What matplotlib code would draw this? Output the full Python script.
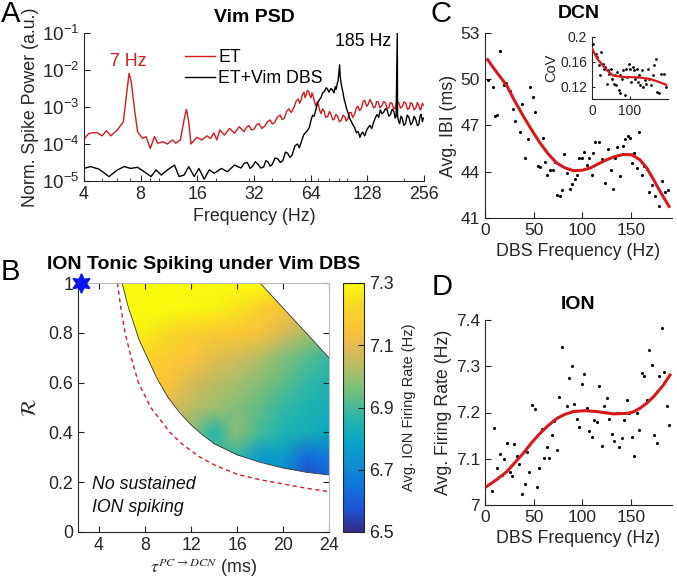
import numpy as np
import matplotlib
matplotlib.use("Agg")
import matplotlib.pyplot as plt
from matplotlib.colors import LinearSegmentedColormap
from matplotlib.patches import Polygon
from matplotlib.ticker import FixedLocator, NullLocator, NullFormatter

plt.rcParams['font.family'] = ['Liberation Sans', 'DejaVu Sans']
plt.rcParams['mathtext.fontset'] = 'custom'
plt.rcParams['mathtext.rm'] = 'Liberation Sans'
plt.rcParams['mathtext.it'] = 'Liberation Sans:italic'
plt.rcParams['mathtext.bf'] = 'Liberation Sans:bold'

# ---------------- datos del panel A (PSD, log10 de la potencia) ----------------
f_et = [4.0, 4.25, 4.68, 5.0, 5.26, 5.55, 6.02, 6.47, 6.81, 6.94, 7.13, 7.39, 7.70,
        8.19, 8.54, 9.0, 9.47, 9.87, 10.5, 11.1, 11.8, 12.3, 13.0, 13.6, 14.0, 14.4,
        14.8, 15.9, 16.9, 18.0, 18.8, 19.6, 20.3, 21.1, 22.3, 23.7, 25.2, 26.7,
        28.3, 29.2, 30.1, 31, 32, 33, 34, 35.2, 36.5, 37.7, 39, 40, 41.2, 42.5, 44,
        45.2, 46.4, 47.7, 49, 50.5, 52.3, 53.5, 55, 56, 57, 58, 59, 59.8, 60.5, 61.5,
        62.5, 63.4, 64.3, 65, 66, 67, 68.3, 69.4, 70.5, 71.5, 72.7, 74, 75.5, 77,
        78.9, 80.5, 82, 84, 85.6, 87, 89, 91, 93.1, 95, 97, 99, 101, 103, 105, 107,
        109.8, 112, 114, 116.5, 119.3, 121.5, 124, 127, 129.6, 132, 135, 138, 140.9,
        143.5, 146, 149.5, 153, 156.5, 160, 163, 166.3, 169.5, 173, 177, 180.7, 184,
        188, 192, 196.4, 200.5, 205, 209, 213.4, 217.5, 222, 227, 231.8, 236, 240,
        244, 247, 251, 254]
p_et = [-3.87, -3.71, -3.69, -3.78, -3.64, -3.78, -3.62, -3.40, -2.45, -2.09, -2.32,
        -2.99, -3.67, -3.85, -3.80, -4.12, -3.80, -3.98, -3.94, -4.0, -3.89, -3.98,
        -3.89, -3.35, -3.06, -3.40, -4.0, -3.82, -3.89, -3.78, -3.85, -3.70, -3.89,
        -3.62, -3.76, -3.58, -3.71, -3.53,
        -3.67, -3.55, -3.50, -3.62, -3.60, -3.48, -3.45, -3.58, -3.52, -3.40, -3.35,
        -3.46, -3.42, -3.28, -3.22, -3.34, -3.30, -3.12, -3.05, -3.15, -3.0, -2.85,
        -2.78, -2.90, -2.80, -2.65, -2.60, -2.75, -2.68, -2.55, -2.58, -2.70, -2.75,
        -2.62, -2.70, -2.85, -2.98, -2.86, -2.95, -3.10, -3.18, -3.05, -3.12, -3.28,
        -3.25, -3.12, -3.20, -3.35, -3.32, -3.20, -3.25, -3.40, -3.36, -3.22, -3.26,
        -3.38, -3.30, -3.15, -3.15, -3.28, -3.18, -3.02, -2.98, -3.10, -3.02, -2.85,
        -2.82, -2.98, -2.92, -2.80, -2.88, -3.02, -3.00, -2.85, -2.86, -3.02, -2.96,
        -2.85, -2.90, -3.05, -3.02, -2.88, -2.90, -3.06, -3.00, -2.85, -2.88, -3.03,
        -2.98, -2.86, -2.90, -3.06, -3.04, -2.88, -2.92, -3.08, -3.02, -2.88, -2.95,
        -3.08, -3.05, -2.90, -2.95]

f_dbs = [4.0, 4.33, 4.81, 5.43, 6.02, 6.54, 7.08, 7.70, 8.36, 9.08, 9.66, 10.3, 11.1,
         12.1, 12.8, 13.6, 14.4, 15.4, 16.3, 17.4, 18.5, 19.7, 21.5, 23.1, 25.2,
         27.3, 28.4, 29.5, 30.5, 31.5, 32.5, 33.6, 34.8, 36, 37, 37.9, 39, 40, 41.4,
         42.8, 44.2, 45.5, 47, 48.3, 49.6, 51, 52.8, 54.5, 55.7, 57, 58.8, 60.5, 61.8,
         63, 64.3, 65.6, 66.8, 68, 69.6, 71.2, 72.6, 74, 75.7, 77.4, 78.7, 80, 82,
         83.9, 85.2, 86.5, 87.5, 88.6, 89.5, 90.3, 91.2, 91.8, 92.5, 93.8, 95, 96,
         97.5, 99.2, 101, 103, 105, 107.5, 109.5, 112, 114.5, 116.9, 119, 121, 124,
         127, 129.5, 132, 135, 138, 141, 144, 147, 150, 153, 156, 159.5, 163, 166.5,
         170, 173.5, 177, 180, 182, 184.6, 185.4, 187.5, 190, 193, 196, 200, 204,
         208.5, 213, 217.5, 222, 227, 232, 236, 240, 244, 247, 251, 254]
p_dbs = [-4.66, -4.61, -4.68, -4.88, -4.70, -4.61, -4.66, -4.63, -4.75, -4.88, -4.70,
         -4.84, -4.70, -4.57, -4.88, -4.84, -4.61, -4.88, -4.66, -4.95, -4.70, -4.79,
         -4.66, -4.75, -4.57,
         -4.65, -4.52, -4.50, -4.66, -4.60, -4.48, -4.55, -4.65, -4.62, -4.45, -4.48,
         -4.60, -4.55, -4.38, -4.40, -4.50, -4.45, -4.22, -4.25, -4.36, -4.30, -4.05,
         -4.00, -4.10, -3.95, -3.75, -3.68, -3.62, -3.55, -3.35, -3.22, -3.25, -3.10,
         -2.90, -2.80, -2.75, -2.62, -2.58, -2.48, -2.52, -2.60, -2.50, -2.55, -2.62,
         -2.45, -2.52, -2.36, -2.30, -2.10, -1.86, -2.15, -2.30, -2.48, -2.60, -2.75,
         -2.88, -3.04, -3.15, -3.30, -3.38, -3.49, -3.55, -3.70, -3.66, -3.82, -3.72,
         -3.68, -3.78, -3.62, -3.55, -3.50, -3.58, -3.42, -3.30, -3.20, -3.28, -3.08,
         -3.18, -3.15, -3.05, -3.08, -3.25, -3.20, -3.06, -3.12, -3.30, -3.25, -1.0,
         -3.26, -3.38, -3.45, -3.25, -3.30, -3.50, -3.45, -3.22, -3.28, -3.48, -3.42,
         -3.25, -3.35, -3.50, -3.48, -3.25, -3.20, -3.40, -3.30]

# ---------------- datos del panel B (mapa de tasa de disparo ION) ----------------
tau_grid = [6, 8, 10, 12, 14, 16, 18, 20, 22, 24]
r_grid = [0.2, 0.3, 0.4, 0.5, 0.6, 0.7, 0.8, 0.9, 1.0]
rate_grid = [
    [7.00, 7.00, 7.00, 6.95, 6.90, 6.85, 6.75, 6.70, 6.55, 6.60],
    [7.05, 7.05, 7.00, 6.95, 6.92, 6.88, 6.75, 6.76, 6.62, 6.66],
    [7.10, 7.08, 7.05, 6.98, 6.86, 6.98, 6.90, 6.85, 6.83, 6.80],
    [7.15, 7.12, 7.08, 7.04, 7.00, 6.97, 6.93, 6.88, 6.85, 6.83],
    [7.20, 7.18, 7.15, 7.08, 7.04, 7.01, 6.97, 6.93, 6.88, 6.85],
    [7.25, 7.20, 7.18, 7.15, 7.10, 7.07, 7.03, 6.97, 6.92, 6.88],
    [7.30, 7.27, 7.23, 7.20, 7.18, 7.17, 7.14, 7.08, 7.02, 6.97],
    [7.30, 7.30, 7.30, 7.29, 7.28, 7.25, 7.20, 7.15, 7.10, 7.05],
    [7.30, 7.30, 7.30, 7.30, 7.30, 7.30, 7.30, 7.25, 7.20, 7.10],
]
# borde inferior de la región con disparo sostenido
tau_lo = [6.0, 6.5, 7.0, 7.5, 8.0, 9.0, 10.0, 11.0, 12.0, 13.0, 14.0, 16.0, 18.0, 20.0, 22.0, 24.0]
r_lo = [1.0, 0.91, 0.84, 0.77, 0.72, 0.62, 0.54, 0.48, 0.43, 0.39, 0.355, 0.31, 0.28, 0.257, 0.24, 0.229]
# borde superior (diagonal)
tau_up = [24.0, 18.0]
r_up = [0.70, 1.0]
# curva roja punteada
tau_dash = [5.6, 5.9, 6.26, 6.8, 7.42, 8.5, 10.17, 11.3, 12.8, 14.0, 16.0, 18.0, 20.0, 22.0, 24.0]
r_dash = [1.0, 0.9, 0.8, 0.7, 0.6, 0.5, 0.4, 0.35, 0.3, 0.27, 0.232, 0.21, 0.193, 0.176, 0.162]
star_tau, star_r = 2.45, 1.0

# ---------------- datos del panel C (DCN) ----------------
dbs_c = [2.7, 7.9, 10.3, 12.7, 15.4, 19.9, 21.2, 25.7, 28.4, 31.2, 36, 38.4, 41.1, 43.8,
         46.2, 49, 51.4, 54.1, 56.2, 59.2, 62, 64, 67.1, 69.9, 71.9, 74.3, 77, 79.5,
         81.5, 84.6, 87.3, 89.7, 92.5, 94.9, 96.9, 99.3, 101.7, 104.5, 106.8, 109.6,
         111.3, 113, 117.5, 119.9, 123.3, 126.7, 129.1, 131.8, 133.6, 136, 138.7,
         141.4, 143.8, 146.6, 149, 150.7, 153.1, 155.8, 158.6, 161, 163.4, 166.1,
         168.5, 171.2, 174.7, 178.8, 181.5, 184.9, 187.7]
ibi = [49.97, 49.5, 47.6, 47.7, 51.85, 49.6, 49.75, 49.25, 48.1, 47.3, 46.6, 48.4,
       44.9, 46.1, 49.5, 48.85, 47.9, 44.35, 44.3, 46.2, 44.6, 43.8, 44.1, 44.1, 44.6,
       42.5, 42.4, 42.8, 45.15, 43.95, 42.9, 43.2, 43.5, 43.8, 44.9, 44.9, 45.3, 44.45,
       44.9, 43.8, 45.2, 45.95, 45.9, 44.8, 43.25, 45.5, 44.1, 42.85, 44.9, 45.6, 43.7,
       45.65, 46.1, 46.3, 46.2, 44.55, 45.2, 44.25, 46.6, 43.8, 44.35, 44.15, 42.7,
       43.15, 42.4, 41.8, 43.4, 42.7, 42.8]
fit_c_x = [2.7, 12, 22.3, 30, 39.4, 48, 56.5, 65, 73.6, 82, 90.8, 100, 107.9, 116, 125,
           134, 142, 150.7, 159, 166, 173, 180, 189]
fit_c_y = [51.27, 50.45, 49.6, 48.65, 47.6, 46.7, 45.87, 45.15, 44.57, 44.25, 44.07,
           44.1, 44.24, 44.5, 44.78, 45.0, 45.12, 45.1, 44.78, 44.25, 43.5, 42.7, 41.75]

dbs_cov = [1.8, 6, 10.6, 13, 17.7, 22, 24.8, 28, 32.7, 35, 40, 42, 46, 50, 53, 57.5, 60,
           64, 66, 71, 73.5, 75, 79.6, 82, 86, 89, 93, 97, 100, 103.5, 108, 110.6, 113,
           118, 121, 125, 128, 132, 135, 139, 142.5, 148, 152, 157, 161, 165, 168,
           172.6, 177, 183, 190, 197]
cov = [0.189, 0.2016, 0.173, 0.168, 0.155, 0.139, 0.176, 0.157, 0.149, 0.152, 0.124,
       0.147, 0.141, 0.149, 0.133, 0.125, 0.138, 0.123, 0.144, 0.115, 0.139, 0.109,
       0.133, 0.147, 0.107, 0.149, 0.136, 0.157, 0.149, 0.128, 0.152, 0.147, 0.133,
       0.149, 0.128, 0.139, 0.122, 0.147, 0.12, 0.131, 0.125, 0.149, 0.133, 0.123,
       0.139, 0.155, 0.164, 0.112, 0.109, 0.141, 0.141, 0.12]
fit_cov_x = [0.5, 8, 15, 22, 29, 40, 56, 75, 92, 115, 135, 155, 172, 196]
fit_cov_y = [0.181, 0.172, 0.164, 0.159, 0.154, 0.146, 0.138, 0.136, 0.1355, 0.135,
             0.134, 0.132, 0.1285, 0.123]

# ---------------- datos del panel D (ION) ----------------
dbs_d = [7.5, 9.6, 12.7, 15.4, 17.8, 19.9, 22.9, 25.7, 28.1, 30.1, 33.2, 35.3, 38,
         41.1, 43.5, 45.5, 48.3, 51, 53.1, 55.8, 58.6, 61, 63.4, 65.8, 68.5, 71.2,
         73.6, 76.4, 79.1, 84.2, 86.6, 89.4, 91.8, 94.2, 97, 99.3, 101.7, 104.5, 107.2,
         109.6, 112.3, 114.7, 117.5, 119.9, 122.3, 125, 127.7, 130.1, 132.5, 135.3,
         138, 140.4, 143.2, 145.5, 148.3, 150.7, 153.4, 155.8, 158.6, 161.3, 163.7,
         166.4, 168.8, 171.6, 173.9, 176.7, 179.1, 181.5, 184.2, 186.6, 189.4]
rate_d = [7.031, 7.166, 7.079, 7.110, 7.065, 7.099, 7.133, 7.071, 7.063, 7.131, 7.106,
          7.088, 7.024, 7.045, 7.114, 7.072, 7.216, 7.207, 7.040, 7.079, 7.164, 7.102,
          7.125, 7.101, 7.151, 7.182, 7.119, 7.233, 7.342, 7.214, 7.275, 7.301, 7.218,
          7.185, 7.169, 7.262, 7.283, 7.209, 7.159, 7.148, 7.184, 7.180, 7.258, 7.128,
          7.213, 7.231, 7.187, 7.153, 7.139, 7.200, 7.125, 7.145, 7.184, 7.228, 7.200,
          7.146, 7.106, 7.200, 7.162, 7.285, 7.279, 7.228, 7.335, 7.302, 7.151, 7.133,
          7.279, 7.382, 7.288, 7.213, 7.174]
fit_d_x = [1.7, 12, 22.3, 30, 39.4, 48, 56.5, 65, 73.6, 82, 90.8, 102.7, 114.7, 132,
           145.5, 152, 159, 166, 173, 183, 190]
fit_d_y = [7.040, 7.055, 7.072, 7.09, 7.112, 7.135, 7.155, 7.172, 7.187, 7.196, 7.202,
           7.204, 7.202, 7.197, 7.198, 7.201, 7.209, 7.22, 7.234, 7.259, 7.281]

# mapa de colores tipo parula
parula = [(0.2081, 0.1663, 0.5292), (0.1253, 0.3242, 0.8303), (0.0498, 0.4586, 0.8641),
          (0.0641, 0.5570, 0.8240), (0.0228, 0.6535, 0.7768), (0.1453, 0.7098, 0.6646),
          (0.3953, 0.7459, 0.5244), (0.6473, 0.7456, 0.4188), (0.8507, 0.7299, 0.3360),
          (0.9990, 0.7653, 0.2164), (0.9697, 0.8481, 0.1475), (0.9763, 0.9831, 0.0538)]
cmap = LinearSegmentedColormap.from_list('parula', parula)

W, H = 677, 587
gray = '#262626'
red = '#d7191c'
fs = 12.8
fst = 14


def ax_box(l, t, r, b):
    return [l / W, 1 - b / H, (r - l) / W, (b - t) / H]


def style(ax, box=False, size=fs):
    for s in ['left', 'bottom', 'top', 'right']:
        ax.spines[s].set_color(gray)
        ax.spines[s].set_linewidth(0.8)
    if not box:
        ax.spines['top'].set_visible(False)
        ax.spines['right'].set_visible(False)
    ax.tick_params(direction='in', colors=gray, labelcolor=gray, labelsize=size,
                   length=4, width=0.8, top=box, right=box)
    ax.tick_params(which='minor', direction='in', length=2, width=0.6, colors=gray,
                   top=False, right=False)


fig = plt.figure(figsize=(W / 100, H / 100), dpi=100)

# ---- A ----
axA = fig.add_axes(ax_box(84, 33, 424, 181))
axA.plot(f_et, 10 ** np.array(p_et), color=red, lw=1.0, label='ET')
axA.plot(f_dbs, 10 ** np.array(p_dbs), color='black', lw=1.0, label='ET+Vim DBS')
axA.set_xscale('log', base=2)
axA.set_yscale('log')
axA.set_xlim(4, 256)
axA.set_ylim(1e-5, 1e-1)
axA.set_xticks([4, 8, 16, 32, 64, 128, 256])
axA.set_xticklabels(['4', '8', '16', '32', '64', '128', '256'])
axA.xaxis.set_minor_locator(FixedLocator([5, 6, 7, 9, 10, 20, 30, 40, 50, 60, 70, 80,
                                          90, 100, 200]))
axA.xaxis.set_minor_formatter(NullFormatter())
axA.set_yticks([1e-5, 1e-4, 1e-3, 1e-2, 1e-1])
axA.set_yticklabels([r'$10^{-5}$', r'$10^{-4}$', r'$10^{-3}$', r'$10^{-2}$', r'$10^{-1}$'])
axA.yaxis.set_minor_locator(NullLocator())
style(axA)
axA.tick_params(axis='y', labelsize=13.5)
axA.set_xlabel('Frequency (Hz)', fontsize=fs, color=gray, labelpad=4)
axA.set_ylabel('Norm. Spike Power (a.u.)', fontsize=fs, color=gray, labelpad=2)
axA.set_title('Vim PSD', fontsize=fst, fontweight='bold', pad=8)
axA.legend(loc='upper left', bbox_to_anchor=(0.27, 0.95), frameon=False, fontsize=fs,
           handlelength=1.7, handletextpad=0.2, labelspacing=0.2, borderpad=0)
axA.text(6.9, 10 ** -1.76, '7 Hz', color=red, fontsize=fs, ha='center', va='center')
axA.text(171, 10 ** -1.24, '185 Hz', color='black', fontsize=fs, ha='right', va='center')

# ---- B ----
axB = fig.add_axes(ax_box(78, 283, 329, 532))
region = list(zip(tau_lo, r_lo)) + list(zip(tau_up, r_up))
patch = Polygon(region, closed=True, facecolor='none', edgecolor='none')
axB.add_patch(patch)
TT, RR = np.meshgrid(tau_grid, r_grid)
mesh = axB.pcolormesh(TT, RR, np.array(rate_grid), cmap=cmap, vmin=6.5, vmax=7.3,
                      shading='gouraud')
mesh.set_clip_path(patch)
axB.plot(tau_lo, r_lo, color='#333333', lw=0.6)
axB.plot(tau_up, r_up, color='#333333', lw=0.6)
axB.plot(tau_dash, r_dash, color=red, lw=1.0, ls=(0, (3, 2.5)))
axB.plot([star_tau], [star_r], marker=(6, 1, 0), color='#0a14f0', markersize=14,
         clip_on=False, zorder=5)
axB.set_xlim(2.17, 24)
axB.set_ylim(0, 1)
axB.set_xticks([4, 8, 12, 16, 20, 24])
axB.set_yticks([0, 0.2, 0.4, 0.6, 0.8, 1])
axB.set_yticklabels(['0', '0.2', '0.4', '0.6', '0.8', '1'])
style(axB, box=True)
for s in ['top', 'right']:
    axB.spines[s].set_color('#bbbbbb')
axB.set_xlabel(r'$\tau^{PC\rightarrow DCN}$ (ms)', fontsize=fs, color=gray, labelpad=2)
axB.xaxis.label.set_math_fontfamily('stix')
axB.set_ylabel(r'$\mathcal{R}$', fontsize=15, color=gray, labelpad=6)
axB.yaxis.label.set_math_fontfamily('stix')
axB.set_title('ION Tonic Spiking under Vim DBS', fontsize=fst, fontweight='bold', pad=10)
axB.text(3.4, 0.19, 'No sustained', fontsize=fs, style='italic', color='#111111',
         ha='left', va='center')
axB.text(3.4, 0.10, 'ION spiking', fontsize=fs, style='italic', color='#111111',
         ha='left', va='center')

cax = fig.add_axes(ax_box(343, 283, 364, 532))
cb = fig.colorbar(mesh, cax=cax, ticks=[6.5, 6.7, 6.9, 7.1, 7.3])
cb.outline.set_edgecolor(gray)
cb.outline.set_linewidth(0.8)
cax.tick_params(direction='in', colors=gray, labelcolor=gray, labelsize=fs, length=4,
                width=0.8)
cb.set_label('Avg. ION Firing Rate (Hz)', fontsize=10.5, color=gray, labelpad=6)

# ---- C ----
axC = fig.add_axes(ax_box(485, 33, 672, 218))
axC.scatter(dbs_c, ibi, s=5, color='black', zorder=3, linewidths=0)
axC.plot(fit_c_x, fit_c_y, color=red, lw=2.2, zorder=4)
axC.set_xlim(0, 192)
axC.set_ylim(41, 53)
axC.set_xticks([0, 50, 100, 150])
axC.set_yticks([41, 44, 47, 50, 53])
style(axC, size=12.5)
axC.set_xlabel('DBS Frequency (Hz)', fontsize=fs, color=gray, labelpad=4)
axC.set_ylabel('Avg. IBI (ms)', fontsize=fs, color=gray, labelpad=3)
axC.set_title('DCN', fontsize=fst, fontweight='bold', pad=11)

axI = fig.add_axes(ax_box(592, 37, 668, 99))
axI.scatter(dbs_cov, cov, s=4, color='black', zorder=3, linewidths=0)
axI.plot(fit_cov_x, fit_cov_y, color=red, lw=1.6, zorder=4)
axI.set_xlim(0, 201)
axI.set_ylim(0.1, 0.2)
axI.set_xticks([0, 100])
axI.set_yticks([0.12, 0.16, 0.2])
axI.set_yticklabels(['0.12', '0.16', '0.2'])
style(axI, size=10)
axI.tick_params(length=2.5)
axI.set_ylabel('CoV', fontsize=10.5, color=gray, labelpad=1)

# ---- D ----
axD = fig.add_axes(ax_box(485, 320, 672, 505))
axD.scatter(dbs_d, rate_d, s=5, color='black', zorder=3, linewidths=0)
axD.plot(fit_d_x, fit_d_y, color=red, lw=2.2, zorder=4)
axD.set_xlim(0, 192)
axD.set_ylim(7, 7.4)
axD.set_xticks([0, 50, 100, 150])
axD.set_yticks([7, 7.1, 7.2, 7.3, 7.4])
axD.set_yticklabels(['7', '7.1', '7.2', '7.3', '7.4'])
style(axD, size=12.5)
axD.set_xlabel('DBS Frequency (Hz)', fontsize=fs, color=gray, labelpad=4)
axD.set_ylabel('Avg. Firing Rate (Hz)', fontsize=fs, color=gray, labelpad=3)
axD.set_title('ION', fontsize=fst, fontweight='bold', pad=8)

# letras de panel
for x, y, s in [(1, 14, 'A'), (1, 272, 'B'), (430, 14, 'C'), (432, 287, 'D')]:
    fig.text(x / W, 1 - y / H, s, fontsize=21, ha='left', va='center')

fig.savefig('out.png', dpi=100)
